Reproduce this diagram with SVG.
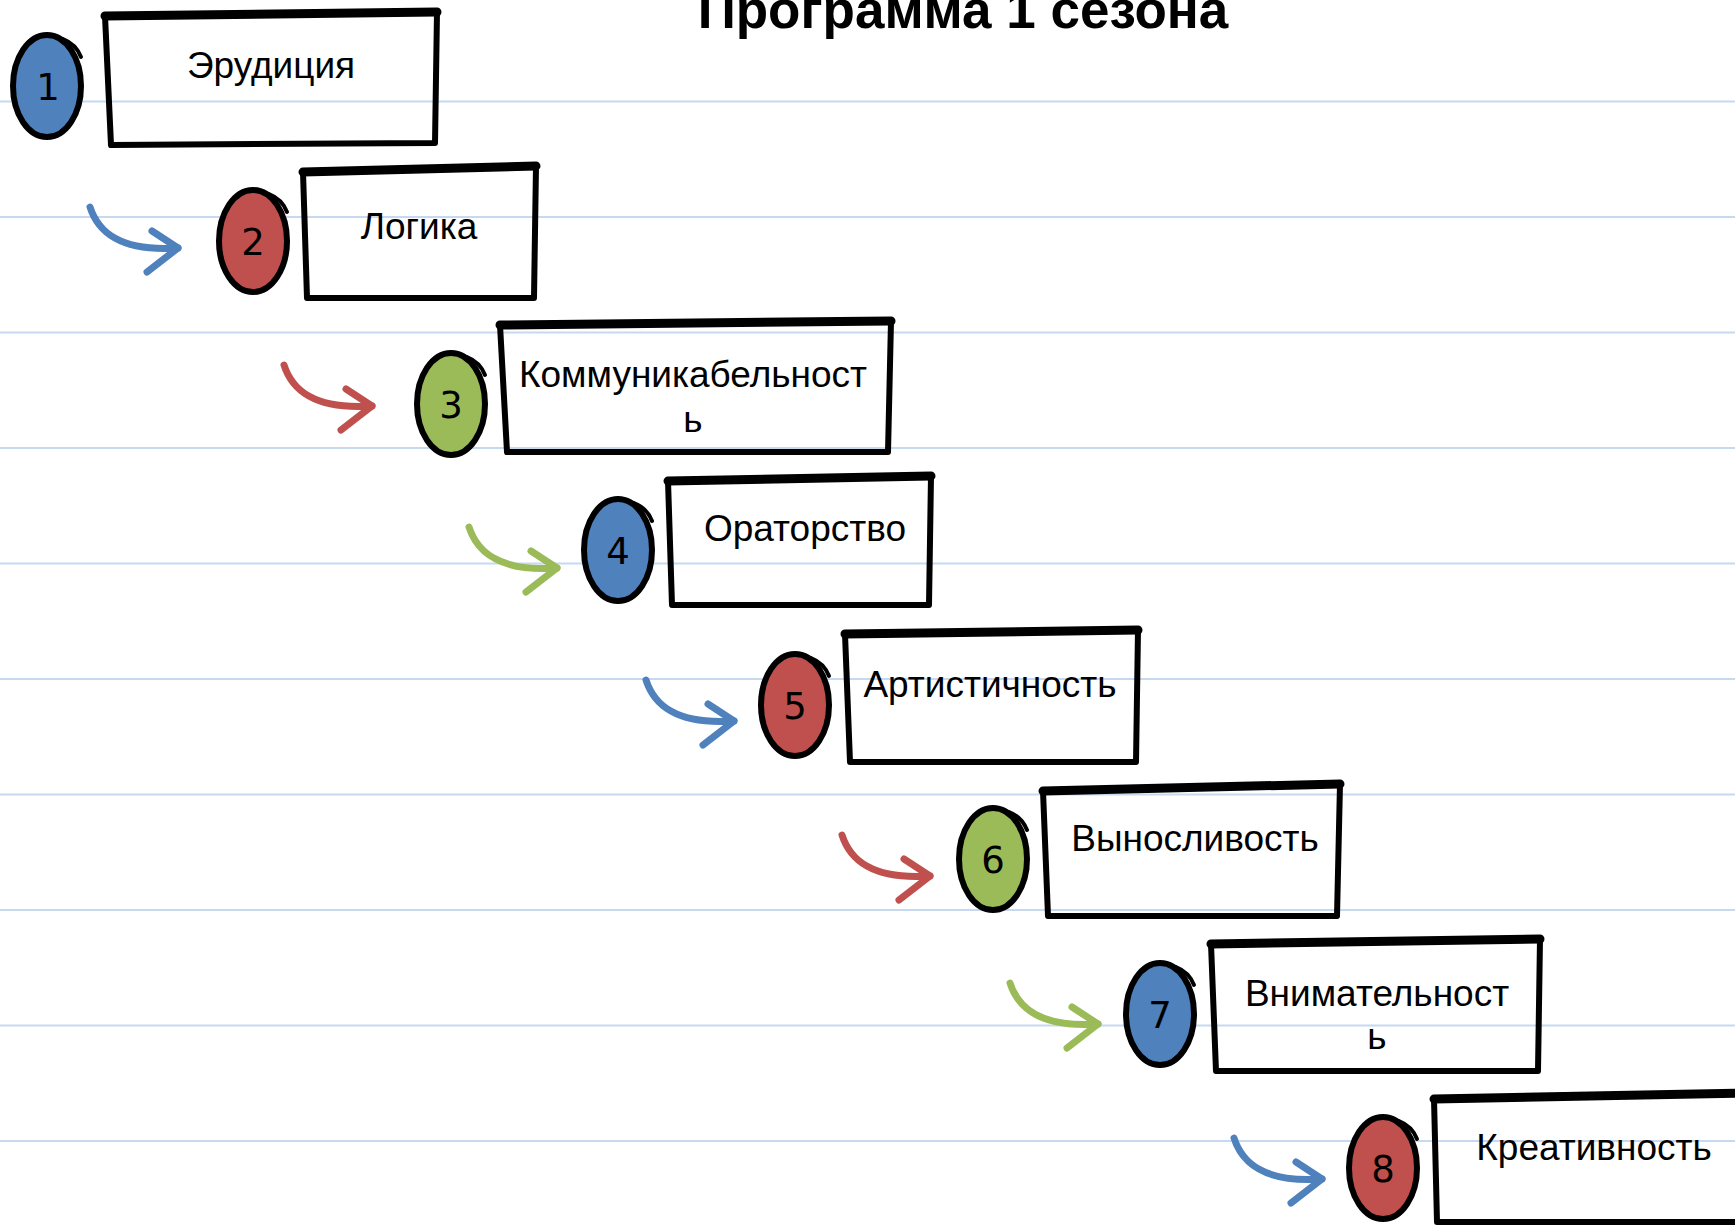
<svg xmlns="http://www.w3.org/2000/svg" width="1735" height="1226" viewBox="0 0 1735 1226">
<style>
.rule{stroke:#c6d9f1;stroke-width:2}
.box{fill:none;stroke:#000;stroke-width:6;stroke-linejoin:round;stroke-linecap:round}
.boxtop{fill:none;stroke:#000;stroke-width:9;stroke-linecap:round}
.dot{stroke:#000;stroke-width:6}
.tick{fill:none;stroke:#000;stroke-width:4;stroke-linecap:round}
.blue{fill:#4f81bd}.red{fill:#c0504d}.green{fill:#9bbb59}
.lbl{font-family:"Liberation Sans",Arial,sans-serif;font-size:37px;fill:#000;text-anchor:middle}
.num{font-family:"DejaVu Sans","Liberation Sans",sans-serif;font-size:37px;fill:#000;text-anchor:middle}
.arr{fill:none;stroke-width:7;stroke-linecap:round;stroke-linejoin:round}
.sb{stroke:#4f81bd}.sr{stroke:#c0504d}.sg{stroke:#9bbb59}
.title{font-family:"Liberation Sans",Arial,sans-serif;font-size:53px;font-weight:bold;fill:#000;text-anchor:middle}
</style>
<defs>
<g id="arrowShape">
<path d="M0,0 C8,25 30,45 88,41"/>
<path d="M62,24 L88,41 L57,65"/>
</g>
<g id="bead">
<path class="tick" d="M16,-47 Q29,-42 34,-29"/>
</g>
</defs>
<rect width="1735" height="1226" fill="#fff"/>
<g id="rules">
<line class="rule" x1="0" y1="101.5" x2="1735" y2="101.5"/>
<line class="rule" x1="0" y1="217" x2="1735" y2="217"/>
<line class="rule" x1="0" y1="332.5" x2="1735" y2="332.5"/>
<line class="rule" x1="0" y1="448" x2="1735" y2="448"/>
<line class="rule" x1="0" y1="563.5" x2="1735" y2="563.5"/>
<line class="rule" x1="0" y1="679" x2="1735" y2="679"/>
<line class="rule" x1="0" y1="794.5" x2="1735" y2="794.5"/>
<line class="rule" x1="0" y1="910" x2="1735" y2="910"/>
<line class="rule" x1="0" y1="1025.5" x2="1735" y2="1025.5"/>
<line class="rule" x1="0" y1="1141" x2="1735" y2="1141"/>
</g>
<text class="title" x="963" y="28">Программа 1 сезона</text>
<g id="connectors">
<use href="#arrowShape" class="arr sb" transform="translate(90,207)"/>
<use href="#arrowShape" class="arr sr" transform="translate(284,365)"/>
<use href="#arrowShape" class="arr sg" transform="translate(469,527)"/>
<use href="#arrowShape" class="arr sb" transform="translate(646,680)"/>
<use href="#arrowShape" class="arr sr" transform="translate(842,835)"/>
<use href="#arrowShape" class="arr sg" transform="translate(1010,983)"/>
<use href="#arrowShape" class="arr sb" transform="translate(1234,1138)"/>
</g>
<g id="node1">
<ellipse class="dot blue" cx="47" cy="86" rx="34" ry="51"/>
<use href="#bead" transform="translate(47,86)"/>
<text class="num" x="48" y="100">1</text>
<path class="box" d="M105,16 L437,12 L435,143 L111,145 Z"/>
<path class="boxtop" d="M105,16 L437,12"/>
<text class="lbl" x="271" y="78">Эрудиция</text>
</g>
<g id="node2">
<ellipse class="dot red" cx="253" cy="241" rx="34" ry="51"/>
<use href="#bead" transform="translate(253,241)"/>
<text class="num" x="253" y="255">2</text>
<path class="box" d="M303,172 L536,166 L534,298 L307,298 Z"/>
<path class="boxtop" d="M303,172 L536,166"/>
<text class="lbl" x="419" y="239">Логика</text>
</g>
<g id="node3">
<ellipse class="dot green" cx="451" cy="404" rx="34" ry="51"/>
<use href="#bead" transform="translate(451,404)"/>
<text class="num" x="451" y="418">3</text>
<path class="box" d="M500,325 L891,321 L888,452 L507,452 Z"/>
<path class="boxtop" d="M500,325 L891,321"/>
<text class="lbl" x="693" y="387">Коммуникабельност</text>
<text class="lbl" x="693" y="432">ь</text>
</g>
<g id="node4">
<ellipse class="dot blue" cx="618" cy="550" rx="34" ry="51"/>
<use href="#bead" transform="translate(618,550)"/>
<text class="num" x="618" y="564">4</text>
<path class="box" d="M668,481 L931,476 L929,605 L672,605 Z"/>
<path class="boxtop" d="M668,481 L931,476"/>
<text class="lbl" x="805" y="541">Ораторство</text>
</g>
<g id="node5">
<ellipse class="dot red" cx="795" cy="705" rx="34" ry="51"/>
<use href="#bead" transform="translate(795,705)"/>
<text class="num" x="795" y="719">5</text>
<path class="box" d="M845,634 L1138,630 L1136,762 L850,762 Z"/>
<path class="boxtop" d="M845,634 L1138,630"/>
<text class="lbl" x="990" y="697">Артистичность</text>
</g>
<g id="node6">
<ellipse class="dot green" cx="993" cy="859" rx="34" ry="51"/>
<use href="#bead" transform="translate(993,859)"/>
<text class="num" x="993" y="873">6</text>
<path class="box" d="M1043,791 L1340,784 L1337,916 L1048,916 Z"/>
<path class="boxtop" d="M1043,791 L1340,784"/>
<text class="lbl" x="1195" y="851">Выносливость</text>
</g>
<g id="node7">
<ellipse class="dot blue" cx="1160" cy="1014" rx="34" ry="51"/>
<use href="#bead" transform="translate(1160,1014)"/>
<text class="num" x="1160" y="1028">7</text>
<path class="box" d="M1211,944 L1540,939 L1538,1071 L1216,1071 Z"/>
<path class="boxtop" d="M1211,944 L1540,939"/>
<text class="lbl" x="1377" y="1006">Внимательност</text>
<text class="lbl" x="1377" y="1049">ь</text>
</g>
<g id="node8">
<ellipse class="dot red" cx="1383" cy="1168" rx="34" ry="51"/>
<use href="#bead" transform="translate(1383,1168)"/>
<text class="num" x="1383" y="1182">8</text>
<path class="box" d="M1434,1099 L1745,1093 L1745,1222 L1437,1222 Z"/>
<path class="boxtop" d="M1434,1099 L1745,1093"/>
<text class="lbl" x="1594" y="1160">Креативность</text>
</g>
</svg>
